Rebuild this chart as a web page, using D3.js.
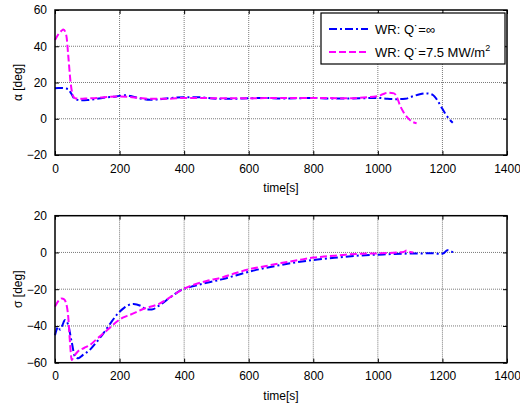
<!DOCTYPE html>
<html><head><meta charset="utf-8">
<script src="https://cdn.jsdelivr.net/npm/d3@7"></script>
<style>
body{margin:0;background:#fff;}
svg{display:block;font-family:Arial,"Liberation Sans",sans-serif;}
</style></head>
<body><svg id="c" width="520" height="403"></svg>
<script>
// ---- data ----
const xTicks = [0,200,400,600,800,1000,1200,1400];
const alphaTicks = [-20,0,20,40,60];
const sigmaTicks = [-60,-40,-20,0,20];
const seriesNames = ["WR: Q\u02D9=\u221E", "WR: Q\u02D9=7.5 MW/m"];

const alphaInfT = [0,10,20,30,40,50,62,80,100,130,160,190,217,240,270,294,320,350,400,450,500,550,600,650,700,750,800,850,900,950,1000,1030,1060,1085,1110,1130,1151,1170,1185,1195,1208,1220,1232];
const alphaInfV = [16.8,17,17,16.8,16.5,14,10.8,10.2,10.3,11,11.8,12.3,13,12.3,11,10.5,10.7,11.3,11.8,11.8,11,11,11.3,11.5,11.2,11.3,11.5,11.2,11.2,11.3,11.5,11,10.8,11,12.5,13.5,14,13.2,10,7,3,0,-2.2];

const alphaQT = [0,10,20,26,35,41,48,55,62,80,100,130,160,200,230,260,300,350,400,450,500,600,700,800,900,1000,1015,1032,1050,1060,1068,1080,1094,1105,1120];
const alphaQV = [43.4,46.5,48.5,49.3,46,35,20.5,13,11.3,11,11.2,11.5,12,12.3,12,11.5,11,11,11.5,11.5,11.3,11.3,11.5,11.5,11.3,12.5,13.5,14.4,14,11.5,7.6,3.5,0.2,-1.5,-2.5];

const sigmaInfT = [0,5,10,16,22,31,36,41,52,62,72,85,108,130,150,170,191,215,243,265,284,300,325,360,397,430,470,520,560,600,650,700,750,800,850,900,950,1000,1050,1100,1150,1180,1192,1205,1215,1225,1234];
const sigmaInfV = [-45,-42,-40.4,-42,-40,-36.8,-37.5,-39.5,-49,-56.7,-57.6,-56,-53,-48.5,-44,-39,-34,-30,-28,-29,-31,-31,-28.6,-24,-20,-18.3,-16.5,-14.5,-12.5,-10.5,-8.5,-6.8,-5.3,-4.1,-3.2,-2.3,-1.6,-1.2,-0.8,-0.6,-0.5,-0.5,-0.9,-0.3,1.2,0.8,0];

const sigmaQT = [0,10,21,28,35,41,46,52,57,70,90,108,130,150,170,191,210,232,273,325,360,397,430,470,520,560,600,650,700,750,800,850,900,950,1000,1030,1060,1080,1089,1100,1110];
const sigmaQV = [-29.5,-26.5,-25,-25.5,-28,-35,-48,-58.5,-57,-54,-52,-50.4,-47,-44,-41,-37.7,-35.5,-34,-30.8,-27.7,-24,-19.9,-17.6,-15.5,-13.5,-11.2,-9.2,-7.5,-5.8,-4.3,-2.8,-2,-1.2,-0.7,-0.5,-0.3,0,0.3,1.0,0.2,0];

// ---- drawing ----
const svg = d3.select("#c");
const blue = "#0000FF", magenta = "#FF00FF";
const dashBlue = "8,3,2,3", dashMag = "7,3";
const gridColor = "#7a7a7a";

function panel(top, bottom, domainY, yTicks, ylabel, series) {
  const x = d3.scaleLinear().domain([0,1400]).range([55,507]);
  const y = d3.scaleLinear().domain(domainY).range([bottom, top]);
  const g = svg.append("g");
  // grid
  g.selectAll(".gx").data(xTicks.slice(1,-1)).join("line")
    .attr("x1", d=>x(d)).attr("x2", d=>x(d)).attr("y1", top).attr("y2", bottom)
    .attr("stroke",gridColor).attr("stroke-width",1).attr("stroke-dasharray","1,1");
  g.selectAll(".gy").data(yTicks.slice(1,-1)).join("line")
    .attr("y1", d=>y(d)).attr("y2", d=>y(d)).attr("x1", 55).attr("x2", 507)
    .attr("stroke",gridColor).attr("stroke-width",1).attr("stroke-dasharray","1,1");
  // inner ticks via axes
  const fmt = d3.format("d");
  const ax = d3.axisBottom(x).tickValues(xTicks).tickFormat(fmt).tickSizeInner(-4).tickSizeOuter(0).tickPadding(9);
  g.append("g").attr("transform",`translate(0,${bottom})`).call(ax);
  const axT = d3.axisTop(x).tickValues(xTicks).tickSizeInner(-4).tickSizeOuter(0).tickFormat("");
  g.append("g").attr("transform",`translate(0,${top})`).call(axT);
  const ay = d3.axisLeft(y).tickValues(yTicks).tickFormat(fmt).tickSizeInner(-4).tickSizeOuter(0).tickPadding(8);
  g.append("g").attr("transform",`translate(55,0)`).call(ay);
  const ayR = d3.axisRight(y).tickValues(yTicks).tickSizeInner(-4).tickSizeOuter(0).tickFormat("");
  g.append("g").attr("transform",`translate(507,0)`).call(ayR);
  g.selectAll(".domain").remove();
  g.selectAll(".tick line").attr("stroke","#000").attr("stroke-width",1);
  g.selectAll(".tick text").attr("font-size",12).attr("font-family","Arial, 'Liberation Sans', sans-serif").attr("fill","#000");
  // lines
  const line = d3.line().x(d=>x(d[0])).y(d=>y(d[1])).curve(d3.curveMonotoneX);
  series.forEach(s=>{
    g.append("path").datum(d3.zip(s.t, s.v)).attr("d", line)
      .attr("fill","none").attr("stroke", s.color).attr("stroke-width",2)
      .attr("stroke-dasharray", s.dash);
  });
  // box
  g.append("rect").attr("x",55).attr("y",top).attr("width",452).attr("height",bottom-top)
    .attr("fill","none").attr("stroke","#000").attr("stroke-width",1.5);
  // labels
  g.append("text").attr("x",281).attr("y",bottom+37).attr("text-anchor","middle")
    .attr("font-size",12).text("time[s]");
  g.append("text").attr("transform",`translate(22,${(top+bottom)/2}) rotate(-90)`)
    .attr("text-anchor","middle").attr("font-size",12).text(ylabel);
  return {x,y,g};
}

panel(10, 155, [-20,60], alphaTicks, "\u03B1  [deg]", [
  {t:alphaInfT, v:alphaInfV, color:blue, dash:dashBlue},
  {t:alphaQT, v:alphaQV, color:magenta, dash:dashMag}
]);
panel(215.7, 362.7, [-60,20], sigmaTicks, "\u03C3  [deg]", [
  {t:sigmaInfT, v:sigmaInfV, color:blue, dash:dashBlue},
  {t:sigmaQT, v:sigmaQV, color:magenta, dash:dashMag}
]);

// legend
const lg = svg.append("g");
lg.append("rect").attr("x",321).attr("y",13).attr("width",184).attr("height",51)
  .attr("fill","#fff").attr("stroke","#000").attr("stroke-width",1.2);
const legItems = [{name:seriesNames[0], color:blue, dash:dashBlue, sup:null},
                  {name:seriesNames[1], color:magenta, dash:dashMag, sup:"2"}];
legItems.forEach((d,i)=>{
  const yy = 29 + i*23;
  lg.append("line").attr("x1",329).attr("x2",368).attr("y1",yy).attr("y2",yy)
    .attr("stroke",d.color).attr("stroke-width",2).attr("stroke-dasharray",d.dash);
  const t = lg.append("text").attr("x",375).attr("y",yy+4.5).attr("font-size",13);
  t.append("tspan").text(d.name);
  if (d.sup) t.append("tspan").attr("font-size",9).attr("dy",-6).text(d.sup);
});
</script></body></html>
